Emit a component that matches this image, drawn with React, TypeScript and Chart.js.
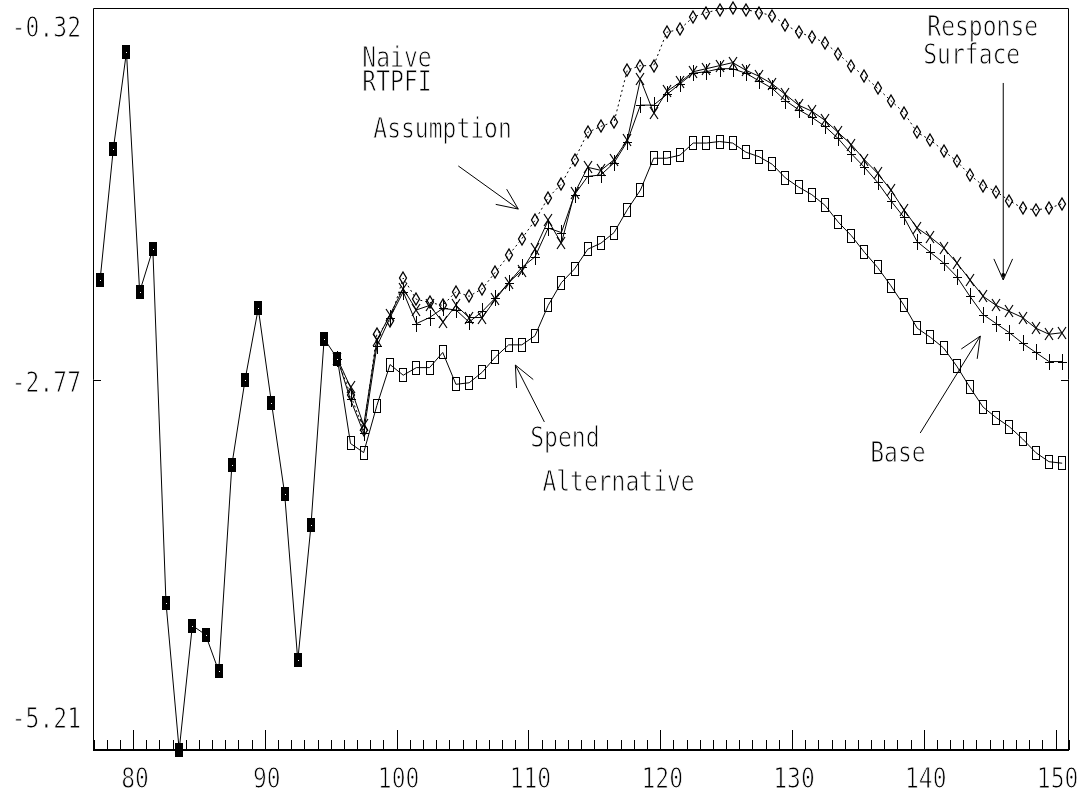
import { useEffect, useRef } from "react";
import { Chart, registerables } from "chart.js";

Chart.register(...registerables);

// ---- data ----
const periods = [
  77, 78, 79, 80, 81, 82, 83, 84, 85, 86, 87, 88, 89, 90, 91, 92, 93, 94, 95,
  96, 97, 98, 99, 100, 101, 102, 103, 104, 105, 106, 107, 108, 109, 110, 111,
  112, 113, 114, 115, 116, 117, 118, 119, 120, 121, 122, 123, 124, 125, 126,
  127, 128, 129, 130, 131, 132, 133, 134, 135, 136, 137, 138, 139, 140, 141,
  142, 143, 144, 145, 146, 147, 148, 149, 150,
];

const historyValues = [
  -2.11, -1.25, -0.61, -2.19, -1.91, -4.24, -5.21, -4.39, -4.45, -4.69, -3.33,
  -2.77, -2.3, -2.92, -3.52, -4.62, -3.73, -2.5, -2.63,
];

// projections start at period 95 (shared with the last history point)
const projectionStart = 95;

const baseValues = [
  -2.63, -2.9, -3.12, -2.55, -2.36, -2.19, -2.4, -2.36, -2.3, -2.31, -2.39,
  -2.32, -2.23, -2.13, -2.03, -1.96, -1.77, -1.8, -1.55, -1.43, -1.42, -1.34,
  -1.2, -0.96, -0.96, -0.89, -0.82, -0.75, -0.74, -0.72, -0.72, -0.75, -0.8,
  -0.85, -0.93, -0.99, -1.04, -1.1, -1.18, -1.28, -1.37, -1.47, -1.59, -1.7,
  -1.86, -1.93, -2.0, -2.09, -2.22, -2.34, -2.4, -2.46, -2.53, -2.59, -2.65,
  -2.65,
];

const responseValues = [
  -2.63, -2.82, -3.07, -2.51, -2.34, -2.17, -2.31, -2.28, -2.39, -2.28, -2.36,
  -2.36, -2.24, -2.13, -2.05, -1.91, -1.72, -1.87, -1.54, -1.37, -1.39, -1.32,
  -1.19, -0.79, -1.01, -0.87, -0.81, -0.74, -0.72, -0.7, -0.68, -0.73, -0.77,
  -0.82, -0.89, -0.96, -1.0, -1.06, -1.14, -1.22, -1.32, -1.41, -1.52, -1.65,
  -1.77, -1.83, -1.9, -2.0, -2.11, -2.22, -2.28, -2.32, -2.36, -2.43, -2.47,
  -2.46,
];

const naiveValues = [
  -2.63, -2.87, -3.1, -2.47, -2.38, -2.1, -2.24, -2.26, -2.28, -2.19, -2.22,
  -2.17, -2.06, -1.95, -1.84, -1.72, -1.57, -1.48, -1.32, -1.14, -1.1, -1.07,
  -0.73, -0.7, -0.7, -0.48, -0.46, -0.38, -0.35, -0.33, -0.32, -0.33, -0.35,
  -0.37, -0.43, -0.48, -0.51, -0.55, -0.62, -0.7, -0.77, -0.85, -0.93, -1.01,
  -1.14, -1.19, -1.26, -1.33, -1.42, -1.49, -1.53, -1.59, -1.64, -1.65, -1.64,
  -1.61,
];

const spendValues = [
  -2.63, -3.19, -3.25, -2.94, -2.67, -2.74, -2.69, -2.69, -2.59, -2.8, -2.79,
  -2.72, -2.62, -2.54, -2.54, -2.48, -2.28, -2.13, -2.04, -1.91, -1.87, -1.8,
  -1.65, -1.52, -1.31, -1.31, -1.29, -1.21, -1.21, -1.2, -1.21, -1.27, -1.3,
  -1.35, -1.44, -1.5, -1.55, -1.62, -1.73, -1.82, -1.93, -2.03, -2.15, -2.28,
  -2.43, -2.49, -2.56, -2.68, -2.82, -2.95, -3.02, -3.08, -3.16, -3.25, -3.31,
  -3.32,
];

const xTickLabels = [80, 90, 100, 110, 120, 130, 140, 150];
const yTickLabels = ["-0.32", "-2.77", "-5.21"];
const yTickValues = [-0.32, -2.77, -5.21];

const X_MIN = 76.96;
const X_MAX = 151.02;
const Y_MIN = -5.21;
const Y_MAX = -0.32;
// each value sits in the middle of its period cell
const CELL_CENTER = 0.5;

type Note = { text: string; x: number; y: number };
const notes: Note[] = [
  { text: "Naive", x: 97.4, y: -0.66 },
  { text: "RTPFI", x: 97.4, y: -0.82 },
  { text: "Assumption", x: 98.23, y: -1.131 },
  { text: "Spend", x: 110.14, y: -3.167 },
  { text: "Alternative", x: 111.06, y: -3.457 },
  { text: "Base", x: 135.94, y: -3.266 },
  { text: "Response", x: 140.27, y: -0.458 },
  { text: "Surface", x: 139.96, y: -0.643 },
];

type Arrow = { x1: number; y1: number; x2: number; y2: number; dot: boolean };
const arrows: Arrow[] = [
  { x1: 104.68, y1: -1.361, x2: 109.23, y2: -1.645, dot: false },
  { x1: 111.21, y1: -3.048, x2: 109.01, y2: -2.673, dot: false },
  { x1: 139.73, y1: -3.121, x2: 144.29, y2: -2.482, dot: false },
  { x1: 146.03, y1: -0.814, x2: 146.03, y2: -2.112, dot: true },
];

// ---- markers ----
function makeMarker(kind: string): HTMLCanvasElement {
  const c = document.createElement("canvas");
  c.width = 14;
  c.height = 18;
  const g = c.getContext("2d")!;
  g.strokeStyle = "#000";
  g.fillStyle = "#000";
  g.lineWidth = 1;
  if (kind === "filled") {
    g.fillRect(3, 2, 8, 14);
    g.fillStyle = "#fff";
    g.fillRect(7, 9, 1, 1);
  } else if (kind === "open") {
    g.strokeRect(3.5, 2.5, 7, 13);
  } else if (kind === "diamond") {
    g.lineWidth = 1.3;
    g.beginPath();
    g.moveTo(7, 3);
    g.lineTo(10.5, 9);
    g.lineTo(7, 15);
    g.lineTo(3.5, 9);
    g.closePath();
    g.stroke();
  } else if (kind === "plus") {
    g.beginPath();
    g.moveTo(7.5, 1);
    g.lineTo(7.5, 17);
    g.moveTo(3, 9.5);
    g.lineTo(12, 9.5);
    g.stroke();
  } else if (kind === "cross") {
    g.lineWidth = 1.2;
    g.beginPath();
    g.moveTo(3, 3);
    g.lineTo(11, 15);
    g.moveTo(11, 3);
    g.lineTo(3, 15);
    g.stroke();
  }
  return c;
}

const FONT = '23px "DejaVu Sans Mono", "Liberation Mono", monospace';

function drawText(
  ctx: CanvasRenderingContext2D,
  text: string,
  x: number,
  y: number,
  align: CanvasTextAlign
) {
  ctx.save();
  ctx.translate(x, y);
  ctx.scale(1, 1.2);
  ctx.font = FONT;
  ctx.textAlign = align;
  ctx.textBaseline = "middle";
  ctx.fillStyle = "#000";
  ctx.fillText(text, 0, 0);
  // thin the glyph strokes a little
  ctx.strokeStyle = "#fff";
  ctx.lineWidth = 0.7;
  ctx.strokeText(text, 0, 0);
  ctx.restore();
}

const framePlugin = {
  id: "frame",
  beforeDatasetsDraw(chart: any) {
    chart.ctx.imageSmoothingEnabled = false;
  },
  afterDraw(chart: any) {
    const { ctx, chartArea, scales } = chart;
    const xs = scales.x;
    const ys = scales.y;
    const { left, right, top, bottom } = chartArea;
    ctx.save();
    ctx.strokeStyle = "#000";
    ctx.lineWidth = 1;
    // frame
    ctx.beginPath();
    ctx.moveTo(left + 0.5, bottom);
    ctx.lineTo(left + 0.5, top + 0.5);
    ctx.lineTo(right - 0.5, top + 0.5);
    ctx.lineTo(right - 0.5, bottom);
    ctx.stroke();
    ctx.lineWidth = 2;
    ctx.beginPath();
    ctx.moveTo(left, bottom);
    ctx.lineTo(right, bottom);
    ctx.stroke();
    // x ticks
    ctx.lineWidth = 1;
    ctx.beginPath();
    for (let v = Math.ceil(X_MIN); v <= Math.floor(X_MAX); v++) {
      const px = Math.round(xs.getPixelForValue(v)) + 0.5;
      const len = v % 10 === 0 ? 20 : 10;
      ctx.moveTo(px, bottom);
      ctx.lineTo(px, bottom - len);
    }
    // y middle tick on both sides
    const my = Math.round(ys.getPixelForValue(yTickValues[1])) + 0.5;
    ctx.moveTo(left, my);
    ctx.lineTo(left + 8, my);
    ctx.moveTo(right, my);
    ctx.lineTo(right - 8, my);
    ctx.stroke();

    // x labels
    xTickLabels.forEach((v) => {
      drawText(ctx, String(v), xs.getPixelForValue(v) + 2, bottom + 31, "center");
    });
    // y labels (top / middle / bottom rows)
    const labelX = left - 12;
    drawText(ctx, yTickLabels[0], labelX, ys.getPixelForValue(yTickValues[0]) + 22, "right");
    drawText(ctx, yTickLabels[1], labelX, ys.getPixelForValue(yTickValues[1]) + 5, "right");
    drawText(ctx, yTickLabels[2], labelX, ys.getPixelForValue(yTickValues[2]) - 29, "right");

    // annotations
    notes.forEach((n) => {
      drawText(ctx, n.text, xs.getPixelForValue(n.x), ys.getPixelForValue(n.y), "left");
    });
    ctx.lineWidth = 1;
    ctx.strokeStyle = "#000";
    ctx.fillStyle = "#000";
    arrows.forEach((a) => {
      const x1 = xs.getPixelForValue(a.x1);
      const y1 = ys.getPixelForValue(a.y1);
      const x2 = xs.getPixelForValue(a.x2);
      const y2 = ys.getPixelForValue(a.y2);
      const ang = Math.atan2(y1 - y2, x1 - x2);
      const hl = 23;
      const ha = (24 * Math.PI) / 180;
      ctx.beginPath();
      ctx.moveTo(x1, y1);
      ctx.lineTo(x2, y2);
      ctx.moveTo(x2 + hl * Math.cos(ang + ha), y2 + hl * Math.sin(ang + ha));
      ctx.lineTo(x2, y2);
      ctx.lineTo(x2 + hl * Math.cos(ang - ha), y2 + hl * Math.sin(ang - ha));
      ctx.stroke();
      if (a.dot) {
        ctx.beginPath();
        ctx.arc(x2, y2 - 5, 2, 0, Math.PI * 2);
        ctx.fill();
      }
    });
    ctx.restore();
  },
};

function toPoints(values: number[], start: number) {
  const offset = periods.indexOf(start);
  return values.map((v, i) => ({ x: periods[offset + i] + CELL_CENTER, y: v }));
}

export default function App() {
  const ref = useRef<HTMLCanvasElement | null>(null);

  useEffect(() => {
    document.body.style.margin = "0";
    const canvas = ref.current;
    if (!canvas) return;
    const common = {
      borderColor: "#000",
      borderWidth: 1,
      tension: 0,
      fill: false,
      clip: false as any,
      pointRadius: 7,
    };
    const chart = new Chart(canvas, {
      type: "line",
      data: {
        datasets: [
          {
            ...common,
            label: "History",
            data: toPoints(historyValues, periods[0]),
            pointStyle: makeMarker("filled"),
          },
          {
            ...common,
            label: "Spend Alternative",
            data: toPoints(spendValues, projectionStart),
            pointStyle: makeMarker("open"),
          },
          {
            ...common,
            label: "Base",
            data: toPoints(baseValues, projectionStart),
            pointStyle: makeMarker("plus"),
          },
          {
            ...common,
            label: "Response Surface",
            data: toPoints(responseValues, projectionStart),
            pointStyle: makeMarker("cross"),
          },
          {
            ...common,
            label: "Naive RTPFI Assumption",
            data: toPoints(naiveValues, projectionStart),
            pointStyle: makeMarker("diamond"),
            borderDash: [2, 3],
          },
        ] as any,
      },
      options: {
        responsive: false,
        animation: false,
        events: [],
        layout: { padding: { left: 93, top: 8, right: 15, bottom: 47 } },
        plugins: { legend: { display: false }, tooltip: { enabled: false } },
        scales: {
          x: { type: "linear", min: X_MIN, max: X_MAX, display: false },
          y: { type: "linear", min: Y_MIN, max: Y_MAX, display: false },
        },
      },
      plugins: [framePlugin],
    });
    return () => chart.destroy();
  }, []);

  return (
    <div style={{ position: "absolute", left: 0, top: 0, width: 1084, height: 797, background: "#fff" }}>
      <canvas ref={ref} width={1084} height={797} style={{ width: 1084, height: 797, display: "block" }} />
    </div>
  );
}
